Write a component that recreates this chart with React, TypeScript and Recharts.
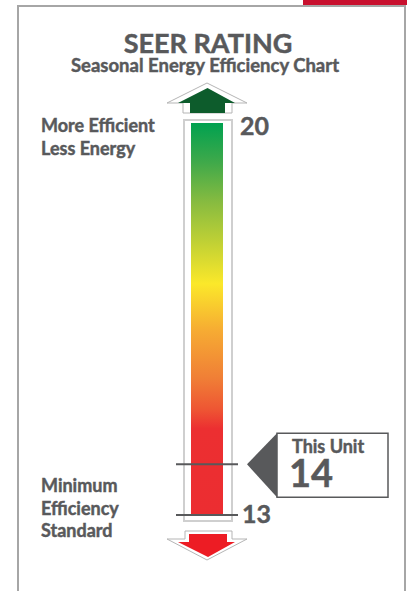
import React from 'react';
import { ComposedChart, Bar, XAxis, YAxis, ReferenceLine, Customized } from 'recharts';

// ---- data ----
const categories = ['SEER'];
const minimumRatings = [13];
const maximumRatings = [20];
const unitRatings = [14];
const unitLabel = 'This Unit';
const topNotes = ['More Efficient', 'Less Energy'];
const bottomNotes = ['Minimum', 'Efficiency', 'Standard'];
const titleText = 'SEER RATING';
const subtitleText = 'Seasonal Energy Efficiency Chart';

const data = categories.map((name, i) => ({ name, range: [minimumRatings[i], maximumRatings[i]] }));

const TEXT = '#58595b';
const FONT = 'Lato, "Noto Sans", sans-serif';
const WEIGHT = 700;
const HEAVY = { stroke: TEXT, strokeWidth: 0.45 };

// d3-like power scale (exponent k) for the YAxis
function powScale(k: number): any {
  let dom = [0, 1];
  let rng = [0, 1];
  const f = (v: number) => Math.pow(v, k);
  const s: any = (v: any) => {
    const a = dom[0];
    const b = dom[dom.length - 1];
    const t = (f(+v) - f(a)) / (f(b) - f(a));
    return rng[0] + t * (rng[rng.length - 1] - rng[0]);
  };
  s.domain = (d?: any[]) => {
    if (d === undefined) return dom.slice();
    dom = d.map(Number);
    return s;
  };
  s.range = (r?: any[]) => {
    if (r === undefined) return rng.slice();
    rng = r.map(Number);
    return s;
  };
  s.invert = (y: number) => {
    const t = (y - rng[0]) / (rng[rng.length - 1] - rng[0]);
    return Math.pow(f(dom[0]) + t * (f(dom[dom.length - 1]) - f(dom[0])), 1 / k);
  };
  s.ticks = () => {
    const out: number[] = [];
    for (let v = Math.ceil(dom[0]); v <= dom[dom.length - 1]; v++) out.push(v);
    return out;
  };
  s.tickFormat = () => (v: any) => String(v);
  s.nice = () => s;
  s.clamp = () => s;
  s.copy = () => powScale(k).domain(dom).range(rng);
  return s;
}
const yScale = powScale(1.5);

const SeerColumn = (props: any) => {
  const { x, y, width, height } = props;
  const cx = x + width / 2;
  const b = y + height;
  const up = [
    [cx - 24, y - 10], [cx - 24, y - 20], [cx - 40, y - 20], [cx, y - 40],
    [cx + 40, y - 20], [cx + 25, y - 20], [cx + 25, y - 10],
  ];
  const upFill = [
    [cx - 17, y - 10], [cx - 17, y - 20], [cx - 29, y - 20], [cx + 0.5, y - 35],
    [cx + 28, y - 20], [cx + 18, y - 20], [cx + 18, y - 10],
  ];
  const down = [
    [cx - 22, b + 16], [cx + 25, b + 16], [cx + 25, b + 24], [cx + 40, b + 24],
    [cx, b + 45], [cx - 40, b + 24], [cx - 22, b + 24],
  ];
  const downFill = [
    [cx - 18, b + 19], [cx + 20, b + 19], [cx + 20, b + 27], [cx + 28, b + 27],
    [cx + 1, b + 42], [cx - 29, b + 27], [cx - 18, b + 27],
  ];
  const pts = (a: number[][]) => a.map((p) => p.join(',')).join(' ');
  return (
    <g>
      <rect x={x - 7} y={y - 3} width={width + 16} height={height + 9} fill="#fff" stroke="#cfcfcf" strokeWidth={2} />
      <rect x={x} y={y} width={width} height={height} fill="url(#seerGradient)" />
      <polygon points={pts(up)} fill="#fff" stroke="#b5b5b5" strokeWidth={1} />
      <polygon points={pts(upFill)} fill="#0d5c2c" />
      <polygon points={pts(down)} fill="#fff" stroke="#b5b5b5" strokeWidth={1} />
      <polygon points={pts(downFill)} fill="#ed1c24" />
    </g>
  );
};

const TopLabel = (props: any) => {
  const vb = props.viewBox;
  return (
    <g fontFamily={FONT} fontWeight={WEIGHT} fill={TEXT} {...HEAVY}>
      <text x={vb.x + vb.width + 2} y={vb.y + 12} fontSize={25}>{String(maximumRatings[0])}</text>
      {topNotes.map((t, i) => (
        <text key={t} x={41} y={vb.y + 9 + i * 23} fontSize={18}>{t}</text>
      ))}
    </g>
  );
};

const BottomLabel = (props: any) => {
  const vb = props.viewBox;
  return (
    <g fontFamily={FONT} fontWeight={WEIGHT} fill={TEXT} {...HEAVY}>
      <text x={vb.x + vb.width + 4} y={vb.y + 8} fontSize={25}>{String(minimumRatings[0])}</text>
      {bottomNotes.map((t, i) => (
        <text key={t} x={41} y={vb.y - 23 + i * 22.5} fontSize={18}>{t}</text>
      ))}
    </g>
  );
};

const UnitCallout = (props: any) => {
  const vb = props.viewBox;
  const y = vb.y;
  const x0 = vb.x + vb.width;
  const tipX = x0 + 9;
  const boxX = x0 + 39;
  return (
    <g fontFamily={FONT} fontWeight={WEIGHT} fill={TEXT}>
      <rect x={boxX} y={y - 31} width={111} height={64} fill="#fff" stroke={TEXT} strokeWidth={1.5} />
      <polygon points={`${tipX},${y} ${boxX},${y - 31} ${boxX},${y + 33}`} fill={TEXT} />
      <text x={boxX + 15} y={y - 11} fontSize={18} {...HEAVY}>{unitLabel}</text>
      <text x={boxX + 12} y={y + 23} fontSize={38} {...HEAVY}>{String(unitRatings[0])}</text>
    </g>
  );
};

const PageDecor = () => (
  <g>
    <rect x={303} y={0} width={104} height={5} fill="#c8102e" />
    <polyline points="18,591 18,6 405,6 405,591" fill="none" stroke="#a6a6a6" strokeWidth={2} />
    <text x={208} y={53} textAnchor="middle" fontFamily={FONT} fontWeight={WEIGHT} fontSize={27} fill={TEXT} {...HEAVY}>{titleText}</text>
    <text x={205} y={72} textAnchor="middle" fontFamily={FONT} fontWeight={WEIGHT} fontSize={18.5} fill={TEXT} {...HEAVY}>{subtitleText}</text>
  </g>
);

export default function App() {
  return (
    <div style={{ position: 'absolute', left: 0, top: 0, width: 409, height: 591, background: '#fff' }}>
      <ComposedChart width={409} height={591} data={data} margin={{ top: 123, bottom: 76, left: 176, right: 171 }}>
        <defs>
          <linearGradient id="seerGradient" x1="0" y1="0" x2="0" y2="1">
            <stop offset="0" stopColor="#00a150" />
            <stop offset="0.1" stopColor="#3fa94a" />
            <stop offset="0.2" stopColor="#86bb40" />
            <stop offset="0.32" stopColor="#c9d433" />
            <stop offset="0.41" stopColor="#fbe82a" />
            <stop offset="0.53" stopColor="#f6ab33" />
            <stop offset="0.65" stopColor="#f07f36" />
            <stop offset="0.73" stopColor="#ee5633" />
            <stop offset="0.78" stopColor="#ec2f31" />
            <stop offset="1" stopColor="#ec2d31" />
          </linearGradient>
        </defs>
        <Customized component={PageDecor} />
        <XAxis dataKey="name" type="category" hide />
        <YAxis type="number" domain={[13, 20]} scale={yScale} hide />
        <Bar dataKey="range" barSize={32} shape={SeerColumn} isAnimationActive={false} />
        <ReferenceLine y={maximumRatings[0]} stroke="none" label={TopLabel} />
        <ReferenceLine y={minimumRatings[0]} stroke={TEXT} strokeWidth={2} label={BottomLabel} />
        <ReferenceLine y={unitRatings[0]} stroke={TEXT} strokeWidth={2} label={UnitCallout} />
      </ComposedChart>
    </div>
  );
}
